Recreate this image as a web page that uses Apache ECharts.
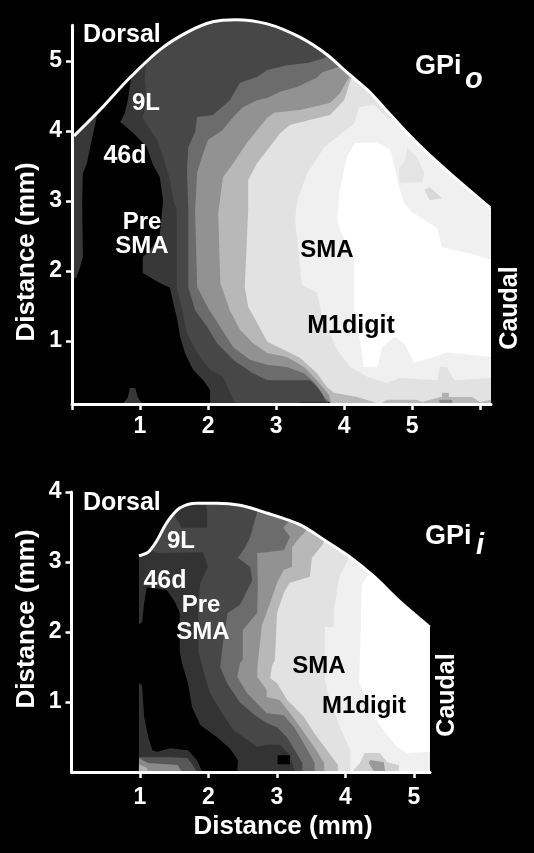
<!DOCTYPE html>
<html>
<head>
<meta charset="utf-8">
<style>
html,body{margin:0;padding:0;background:#000;}
#chart{width:534px;height:853px;}
</style>
<script src="https://cdn.jsdelivr.net/npm/echarts@6/dist/echarts.min.js"></script>
</head>
<body>
<div id="chart"></div>
<script>
// grey levels of the activity map, darkest to lightest
var LEVELS=['#383838','#474747','#6c6c6c','#929292','#b8b8b8','#e2e2e2','#f0f0f0','#ffffff'];

// ---- GPi o, [distance mm, distance mm] ----
var o_outline=[[0.03,3.93],[0.41,4.30],[0.85,4.76],[1.29,5.16],[1.69,5.41],[2.07,5.56],[2.40,5.59],[2.87,5.53],[3.35,5.34],[3.75,5.09],[4.04,4.84],[4.34,4.59],[4.59,4.33],[4.93,3.97],[5.22,3.69],[5.62,3.34],[6.15,2.90]];
var o_black=[[0.35,4.36],[0.37,4.23],[0.29,3.87],[0.22,3.54],[0.16,3.40],[0.15,3.01],[0.16,2.20],[0.12,2.06],[0.06,1.90],[0.03,1.90],[0.03,0.10],[0.74,0.10],[0.82,0.19],[0.85,0.33],[0.93,0.33],[0.97,0.19],[1.04,0.10],[2.03,0.10],[2.03,0.30],[1.93,0.44],[1.78,0.59],[1.66,0.83],[1.59,1.06],[1.54,1.34],[1.49,1.54],[1.44,1.76],[1.29,1.83],[1.04,1.97],[1.04,2.20],[1.15,2.30],[1.29,2.51],[1.34,3.01],[1.29,3.34],[1.18,3.54],[1.10,3.77],[0.90,3.97],[0.71,4.13],[0.78,4.26],[0.82,4.44],[0.87,4.76],[0.85,4.84]];
var o_l2=[[1.10,5.19],[1.07,4.73],[1.10,4.44],[1.04,4.19],[1.25,3.87],[1.34,3.63],[1.44,3.30],[1.49,3.01],[1.54,2.87],[1.54,1.77],[1.62,1.44],[1.69,1.11],[1.84,0.83],[2.03,0.59],[2.22,0.49],[2.40,0.10],[6.16,0.10],[6.16,3.00],[4.50,5.00],[3.00,5.80],[1.10,5.80]];
var o_l3=[[3.94,5.23],[3.71,5.04],[3.46,4.97],[3.16,4.94],[2.87,4.87],[2.72,4.77],[2.47,4.69],[2.32,4.44],[2.07,4.23],[1.84,4.20],[1.81,3.99],[1.71,3.77],[1.69,3.44],[1.71,2.87],[1.71,1.77],[1.81,1.44],[1.99,1.20],[2.13,0.97],[2.37,0.73],[2.66,0.54],[2.87,0.44],[3.50,0.44],[3.65,0.30],[3.75,0.10],[6.16,0.10],[6.16,3.00],[4.50,5.00]];
var o_l4=[[4.01,5.01],[3.91,4.91],[3.68,4.84],[3.60,4.76],[3.46,4.70],[3.31,4.63],[3.06,4.56],[2.87,4.47],[2.72,4.44],[2.51,4.34],[2.37,4.20],[2.21,4.01],[2.00,3.87],[1.93,3.69],[1.84,3.41],[1.81,2.87],[1.84,1.77],[1.99,1.49],[2.18,1.20],[2.37,0.91],[2.62,0.73],[2.87,0.66],[3.16,0.63],[3.41,0.54],[3.57,0.40],[3.72,0.19],[3.82,0.10],[6.16,0.10],[6.16,3.00],[4.50,4.90]];
var o_l5=[[4.16,4.90],[4.09,4.80],[3.94,4.54],[3.79,4.40],[3.35,4.30],[2.97,4.26],[2.87,4.19],[2.57,3.83],[2.37,3.54],[2.22,3.34],[2.15,2.83],[2.18,1.83],[2.32,1.44],[2.47,1.16],[2.66,0.97],[2.87,0.83],[3.16,0.77],[3.41,0.63],[3.60,0.44],[3.78,0.23],[3.81,0.10],[6.16,0.10],[6.16,3.00],[4.70,4.70]];
var o_l6=[[4.24,4.90],[4.12,4.80],[4.00,4.44],[3.79,4.23],[3.21,4.09],[3.06,3.97],[2.87,3.73],[2.72,3.54],[2.59,3.30],[2.59,2.87],[2.54,1.77],[2.59,1.49],[2.72,1.26],[2.87,0.99],[3.12,0.87],[3.35,0.76],[3.60,0.54],[3.75,0.34],[3.85,0.26],[4.19,0.20],[4.53,0.10],[4.63,0.16],[5.07,0.16],[5.15,0.13],[5.41,0.20],[5.88,0.20],[6.00,0.13],[6.16,0.16],[6.16,3.00],[4.70,4.70]];
var o_l7=[[4.90,4.40],[4.68,4.16],[4.44,4.37],[4.22,4.34],[4.15,4.11],[3.71,3.77],[3.46,3.40],[3.31,3.01],[3.28,2.73],[3.38,1.80],[3.60,1.69],[3.68,1.34],[3.90,0.87],[4.09,0.63],[4.34,0.49],[4.63,0.40],[4.82,0.47],[5.37,0.44],[5.41,0.63],[5.51,0.63],[5.62,0.44],[6.16,0.47],[6.16,3.00]];
var o_l8=[[3.90,2.73],[3.93,3.11],[4.04,3.63],[4.16,3.83],[4.49,3.84],[4.68,3.73],[4.81,3.20],[4.88,2.97],[5.00,2.84],[5.37,2.61],[5.44,2.34],[5.81,2.26],[6.16,2.16],[6.16,0.77],[5.51,0.84],[5.32,0.77],[5.03,0.69],[4.88,0.97],[4.74,1.06],[4.56,0.91],[4.49,0.63],[4.29,0.63],[4.24,0.97],[4.15,1.44],[4.15,2.16],[3.94,2.59]];
var o_blob1=[[4.93,3.76],[5.07,3.63],[5.18,3.40],[5.15,3.27],[4.81,3.26],[4.81,3.47],[4.90,3.59]];
var o_blob2=[[5.26,3.20],[5.44,3.04],[5.26,3.01],[5.18,3.16]];
var o_spot1=[[5.44,0.26],[5.54,0.26],[5.54,0.16],[5.44,0.16]];
var o_spot2=[[5.40,0.16],[5.59,0.16],[5.59,0.10],[5.40,0.10]];
var o_spot3=[[3.35,0.13],[3.79,0.13],[3.79,0.10],[3.35,0.10]];

// ---- GPi i ----
var i_outline=[[0.985,3.09],[1.12,3.14],[1.25,3.31],[1.39,3.56],[1.58,3.77],[1.83,3.84],[2.12,3.84],[2.46,3.81],[2.85,3.70],[3.34,3.53],[3.73,3.29],[4.07,3.07],[4.42,2.79],[4.80,2.43],[5.23,2.07]];
var i_black=[[1.03,2.14],[1.06,2.41],[1.10,2.64],[1.39,2.60],[1.51,2.43],[1.58,2.27],[1.58,1.74],[1.61,1.56],[1.70,1.27],[1.76,0.93],[1.88,0.67],[2.12,0.50],[2.31,0.34],[2.43,0.17],[2.42,0],[1.91,0],[1.83,0.17],[1.70,0.31],[1.44,0.34],[1.25,0.29],[1.18,0.31],[1.12,0.50],[1.06,0.79],[1.03,1.24],[0.97,1.29],[0.97,2.10]];
var i_l2=[[1.95,3.96],[1.98,3.70],[1.98,3.49],[1.61,3.49],[1.48,3.71],[1.22,3.39],[1.10,3.20],[1.25,3.13],[1.92,3.14],[1.99,2.93],[1.88,2.70],[1.85,2.41],[1.85,1.74],[1.92,1.46],[2.02,1.13],[2.17,0.89],[2.36,0.60],[2.71,0.36],[2.85,0.39],[3.04,0.39],[3.19,0.24],[3.26,0],[5.23,0],[5.23,2.20],[4.00,3.60],[3.00,4.00]];
var i_l3=[[2.78,3.81],[2.71,3.71],[2.61,3.36],[2.53,3.20],[2.43,3.06],[2.61,2.93],[2.64,2.74],[2.46,2.39],[2.28,2.27],[2.21,1.84],[2.20,1.74],[2.17,1.50],[2.27,1.27],[2.46,0.99],[2.71,0.79],[2.85,0.70],[3.00,0.64],[3.15,0.49],[3.26,0.31],[3.37,0.13],[3.37,0],[5.23,0],[5.23,2.20],[4.00,3.60],[3.20,3.90]];
var i_l4=[[3.26,3.67],[3.09,3.49],[3.19,3.36],[3.10,3.17],[2.85,3.14],[2.71,3.13],[2.72,2.64],[2.71,2.27],[2.50,2.03],[2.50,1.60],[2.46,1.56],[2.42,1.36],[2.56,1.13],[2.85,0.84],[3.10,0.81],[3.25,0.64],[3.39,0.41],[3.55,0.13],[3.55,0],[5.23,0],[5.23,2.20],[4.00,3.60],[3.40,3.80]];
var i_l5=[[3.45,3.57],[3.41,3.43],[3.34,3.36],[3.22,3.21],[3.22,2.93],[3.10,2.89],[3.00,2.70],[2.90,2.41],[2.78,2.10],[2.72,1.56],[2.71,1.36],[2.85,1.17],[2.85,1.07],[3.04,1.03],[3.19,0.84],[3.34,0.64],[3.54,0.36],[3.69,0.13],[3.69,0],[5.23,0],[5.23,2.20],[4.00,3.50]];
var i_l6=[[3.73,3.39],[3.66,3.24],[3.51,3.06],[3.48,2.79],[3.18,2.70],[3.10,2.56],[3.00,2.27],[2.97,1.60],[2.93,1.53],[2.90,1.34],[3.00,1.27],[3.15,1.03],[3.39,0.79],[3.54,0.56],[3.76,0.27],[3.89,0.10],[3.89,0],[5.23,0],[5.23,2.20],[4.20,3.30]];
var i_l7=[[4.09,3.14],[4.02,3.00],[3.91,2.79],[3.83,2.31],[3.83,2.07],[3.70,2.07],[3.70,1.31],[3.77,1.03],[3.92,0.64],[4.07,0.31],[4.07,0],[5.23,0],[5.23,2.20],[4.40,3.10]];
var i_l8=[[4.43,2.89],[4.31,2.79],[4.24,2.67],[4.21,1.60],[4.20,1.27],[4.42,0.79],[4.53,0.63],[4.75,0.36],[4.90,0.27],[5.23,0.29],[5.23,2.20],[4.50,3.00]];
var i_bump1=[[0.985,0.21],[1.15,0.21],[1.44,0.21],[1.69,0.20],[1.77,0.10],[1.83,0],[0.985,0]];
var i_bump2=[[0.985,0.20],[1.11,0.13],[1.55,0.10],[1.61,0],[0.985,0]];
var i_bump3=[[0.985,0.11],[1.10,0.06],[1.12,0],[0.985,0]];
var i_spot1=[[4.12,0.03],[4.21,0.13],[4.28,0.27],[4.50,0.27],[4.61,0.14],[4.78,0.10],[4.78,0],[4.12,0]];
var i_spot2=[[4.36,0.17],[4.56,0.14],[4.58,0],[4.42,0],[4.34,0.13]];
var i_core=[[3.01,0.24],[3.19,0.24],[3.19,0.11],[3.01,0.11]];

// ticks
var o_xticks=[0,1,2,3,4,5,6];
var o_xlabels=[1,2,3,4,5];
var o_yticks=[1,2,3,4,5];
var i_xticks=[1,2,3,4,5];
var i_yticks=[1,2,3,4];

var FONT='"Liberation Sans",Arial,sans-serif';

function polySeries(idx,poly,color){
	return {
		type:'custom',
		xAxisIndex:idx,yAxisIndex:idx,
		coordinateSystem:'cartesian2d',
		clip:false,silent:true,animation:false,
		data:[poly[0]],
		renderItem:function(params,api){
			var pts=poly.map(function(p){return api.coord(p);});
			return {type:'polygon',shape:{points:pts},style:{fill:color}};
		}
	};
}

function makeXAxis(idx,max,ticks,labels,margin){
	return {
		type:'value',gridIndex:idx,min:0,max:max,z:6,
		axisLine:{onZero:false,lineStyle:{color:'#fff',width:3}},
		axisTick:{length:6,customValues:ticks,lineStyle:{color:'#fff',width:2.5}},
		axisLabel:{customValues:labels,margin:margin,color:'#fff',fontFamily:FONT,fontWeight:'bold',fontSize:23},
		splitLine:{show:false}
	};
}
function makeYAxis(idx,min,max,ticks){
	return {
		type:'value',gridIndex:idx,min:min,max:max,z:6,
		axisLine:{onZero:false,lineStyle:{color:'#fff',width:3}},
		axisTick:{length:6,customValues:ticks,lineStyle:{color:'#fff',width:2.5}},
		axisLabel:{customValues:ticks,margin:10,color:'#fff',fontFamily:FONT,fontWeight:'bold',fontSize:23},
		splitLine:{show:false}
	};
}

function outlineSeries(idx,pts){
	return {type:'line',xAxisIndex:idx,yAxisIndex:idx,data:pts,smooth:0.3,showSymbol:false,clip:false,silent:true,animation:false,z:5,
		lineStyle:{color:'#fff',width:3}};
}

function txt(x,y,str,color,size,extra){
	var t={type:'text',x:x,y:y,z:20,silent:true,rotation:extra&&extra.rot||0,
		style:{text:str,fill:color,font:(extra&&extra.style||'bold')+' '+size+'px '+FONT,
			align:extra&&extra.align||'center',verticalAlign:'middle'}};
	return t;
}

var o_mask=o_outline.concat([[6.2,2.90],[6.2,5.9],[0.03,5.9]]);
var i_mask=i_outline.concat([[5.3,2.07],[5.3,4.2],[0.985,4.2]]);
var o_fill=o_outline.concat([[6.16,0.10],[0.03,0.10]]);
var i_fill=i_outline.concat([[5.23,0],[0.985,0]]);

var series=[
	polySeries(0,o_fill,LEVELS[0]),polySeries(0,o_black,'#000'),
	polySeries(0,o_l2,LEVELS[1]),polySeries(0,o_l3,LEVELS[2]),polySeries(0,o_l4,LEVELS[3]),polySeries(0,o_l5,LEVELS[4]),
	polySeries(0,o_l6,LEVELS[5]),polySeries(0,o_l7,LEVELS[6]),polySeries(0,o_l8,LEVELS[7]),
	polySeries(0,o_blob1,'#e4e4e4'),polySeries(0,o_blob2,'#d8d8d8'),polySeries(0,o_spot1,'#b0b0b0'),polySeries(0,o_spot2,'#8a8a8a'),polySeries(0,o_spot3,'#2e2e2e'),
	polySeries(0,o_mask,'#000'),outlineSeries(0,o_outline),

	polySeries(1,i_fill,'#333333'),polySeries(1,i_black,'#000'),
	polySeries(1,i_l2,LEVELS[1]),polySeries(1,i_l3,LEVELS[2]),polySeries(1,i_l4,LEVELS[3]),polySeries(1,i_l5,LEVELS[4]),
	polySeries(1,i_l6,LEVELS[5]),polySeries(1,i_l7,LEVELS[6]),polySeries(1,i_l8,LEVELS[7]),
	polySeries(1,i_bump1,'#585858'),polySeries(1,i_bump2,'#8a8a8a'),polySeries(1,i_bump3,'#b0b0b0'),
	polySeries(1,i_spot1,'#cfcfcf'),polySeries(1,i_spot2,'#9a9a9a'),polySeries(1,i_core,'#000'),
	polySeries(1,i_mask,'#000'),outlineSeries(1,i_outline)
];

var labels=[
	txt(83,35,'Dorsal','#fff',25,{align:'left'}),
	txt(146,103,'9L','#fff',24),
	txt(125,156,'46d','#fff',25),
	txt(142,222,'Pre','#fff',24),
	txt(142,246,'SMA','#fff',24),
	txt(327,250,'SMA','#000',24),
	txt(351,326,'M1digit','#000',25),
	txt(415,67,'GPi','#fff',27,{align:'left'}),
	txt(465,80,'o','#fff',29,{align:'left',style:'italic bold'}),
	txt(510,308,'Caudal','#fff',25,{rot:Math.PI/2}),
	txt(27,252,'Distance (mm)','#fff',26,{rot:Math.PI/2}),

	txt(83,503,'Dorsal','#fff',25,{align:'left'}),
	txt(181,541,'9L','#fff',24),
	txt(165,581,'46d','#fff',25),
	txt(201,605,'Pre','#fff',24),
	txt(203,632,'SMA','#fff',24),
	txt(319,666,'SMA','#000',24),
	txt(364,706,'M1digit','#000',24),
	txt(425,537,'GPi','#fff',27,{align:'left'}),
	txt(476,546,'i','#fff',29,{align:'left',style:'italic bold'}),
	txt(447,695,'Caudal','#fff',25,{rot:Math.PI/2}),
	txt(27,619,'Distance (mm)','#fff',26,{rot:Math.PI/2}),
	txt(283,827,'Distance (mm)','#fff',26)
];

var myChart=echarts.init(document.getElementById('chart'),null,{renderer:'canvas'});
myChart.setOption({
	backgroundColor:'#000',
	animation:false,
	grid:[
		{left:72,top:25.3,width:419,height:378.7},
		{left:71.5,top:492,width:358.5,height:280}
	],
	xAxis:[makeXAxis(0,6.16,o_xticks,o_xlabels,11),makeXAxis(1,5.234,i_xticks,i_xticks,14)],
	yAxis:[makeYAxis(0,0.1,5.51,o_yticks),makeYAxis(1,0,4,i_yticks)],
	series:series,
	graphic:labels
});
</script>
</body>
</html>
